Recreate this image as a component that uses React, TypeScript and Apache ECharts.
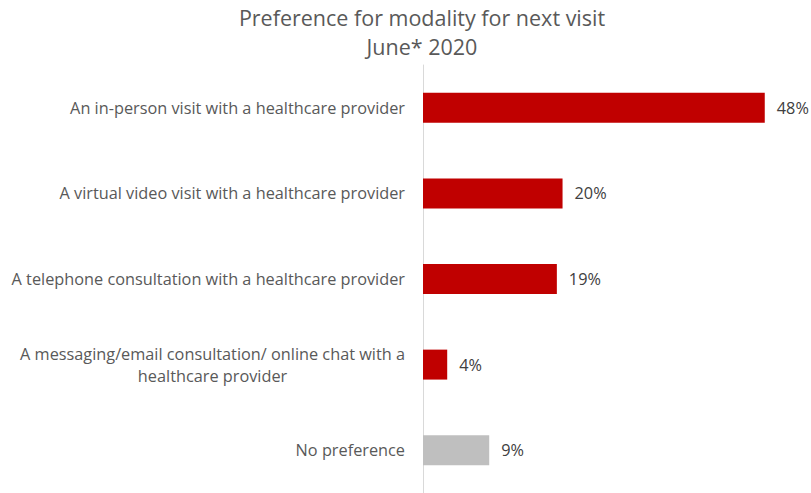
import React, { useEffect, useRef } from "react";
import * as echarts from "echarts";

const categories = [
  "An in-person visit with a healthcare provider",
  "A virtual video visit with a healthcare provider",
  "A telephone consultation with a healthcare provider",
  "A messaging/email consultation/ online chat with a\nhealthcare provider",
  "No preference",
];
const values = [48, 19.6, 18.8, 3.4, 9.3];
const labels = ["48%", "20%", "19%", "4%", "9%"];
const barColors = ["#C00000", "#C00000", "#C00000", "#C00000", "#BFBFBF"];
const titleText = "Preference for modality for next visit\nJune* 2020";

const FONT = "Open Sans";
const LABEL_SIZE = 16.3;

function measure(text: string): number {
  const c = document.createElement("canvas").getContext("2d")!;
  c.font = `${LABEL_SIZE}px "${FONT}"`;
  return Math.max(...text.split("\n").map((l) => c.measureText(l).width));
}

export default function App() {
  const ref = useRef<HTMLDivElement>(null);
  useEffect(() => {
    document.body.style.margin = "0";
    const chart = echarts.init(ref.current!, null, { renderer: "svg" });
    const yData = categories.map((c) =>
      c.includes("\n")
        ? { value: c, textStyle: { align: "center", padding: [0, measure(c), 0, 0] } }
        : c
    );
    chart.setOption({
      animation: false,
      backgroundColor: "#ffffff",
      title: {
        text: titleText,
        left: 417,
        top: -2,
        textAlign: "center",
        textStyle: {
          fontFamily: FONT,
          fontWeight: "normal",
          fontSize: 21.5,
          color: "#595959",
          lineHeight: 29,
        },
      },
      grid: { left: 423, top: 65, width: 356, height: 430 },
      xAxis: {
        type: "value",
        min: 0,
        max: 50,
        show: false,
      },
      yAxis: {
        type: "category",
        inverse: true,
        data: yData,
        axisLine: { show: true, lineStyle: { color: "#D9D9D9", width: 1 } },
        axisTick: { show: false },
        axisLabel: {
          margin: 18,
          fontFamily: FONT,
          fontSize: LABEL_SIZE,
          color: "#595959",
          align: "right",
          lineHeight: 22,
        },
      },
      series: [
        {
          type: "bar",
          data: values.map((v, i) => ({ value: v, itemStyle: { color: barColors[i] } })),
          barCategoryGap: "65%",
          label: {
            show: true,
            position: "right",
            distance: 12,
            fontFamily: FONT,
            fontSize: LABEL_SIZE,
            color: "#404040",
            formatter: (p: any) => labels[p.dataIndex],
          },
        },
      ],
    });
    return () => chart.dispose();
  }, []);
  return <div ref={ref} style={{ width: 811, height: 493 }} />;
}
